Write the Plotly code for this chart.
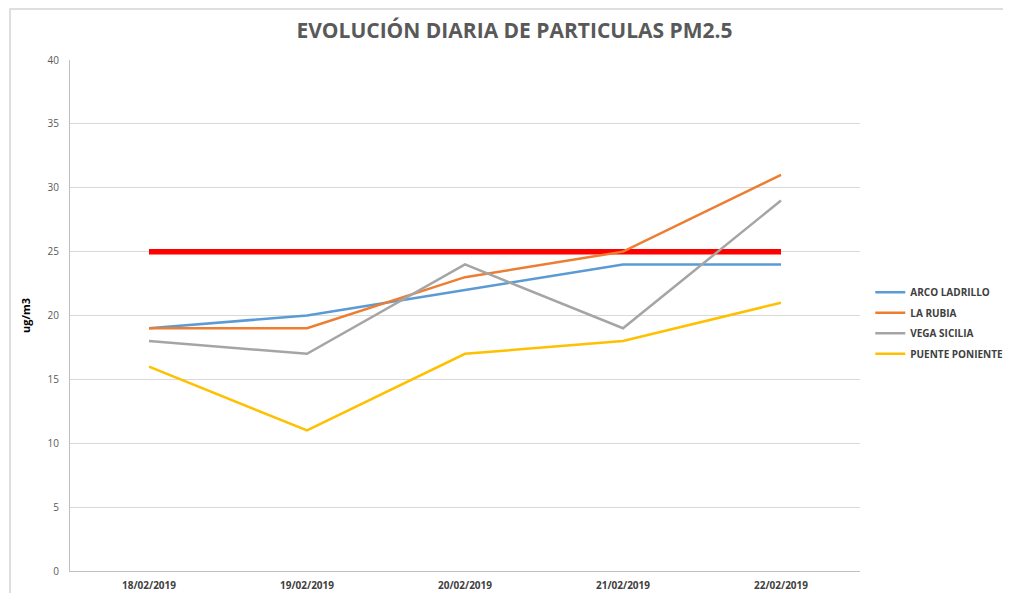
import plotly.graph_objects as go

fechas = ["18/02/2019", "19/02/2019", "20/02/2019", "21/02/2019", "22/02/2019"]
arco_ladrillo = [19, 20, 22, 24, 24]
la_rubia = [19, 19, 23, 25, 31]
vega_sicilia = [18, 17, 24, 19, 29]
puente_poniente = [16, 11, 17, 18, 21]
limite = [25, 25, 25, 25, 25]
y_ticks = [0, 5, 10, 15, 20, 25, 30, 35, 40]

FONT = "Liberation Sans Narrow, Arial Narrow, Open Sans, sans-serif"

fig = go.Figure()
fig.add_trace(go.Scatter(x=fechas, y=limite, mode="lines", showlegend=False,
                         line=dict(color="#FF0000", width=5.5)))
series = [("ARCO LADRILLO", arco_ladrillo, "#5B9BD5"),
          ("LA RUBIA", la_rubia, "#ED7D31"),
          ("VEGA SICILIA", vega_sicilia, "#A5A5A5"),
          ("PUENTE PONIENTE", puente_poniente, "#FFC000")]
for i, (name, vals, col) in enumerate(series):
    fig.add_trace(go.Scatter(x=fechas, y=vals, mode="lines", name=f"<b>{name}</b>",
                             legendgroup=f"g{i}",
                             line=dict(color=col, width=2.5)))

fig.update_layout(
    width=1003, height=585,
    paper_bgcolor="white", plot_bgcolor="white",
    margin=dict(l=62, r=151, t=52, b=22, autoexpand=False),
    title=dict(text="<b>EVOLUCIÓN DIARIA DE PARTICULAS PM2.5</b>",
               x=0.505, xanchor="center", yref="container", y=1 - 23 / 585, yanchor="middle",
               font=dict(family=FONT, size=21, color="#595959")),
    font=dict(family=FONT),
    xaxis=dict(type="category", range=[-0.5, 4.5], showgrid=False, automargin=False,
               showline=True, linecolor="#BFBFBF", linewidth=1,
               ticks="", ticklabelstandoff=5,
               tickfont=dict(size=10, color="#404040", family=FONT),
               tickprefix="<b>", ticksuffix="</b>"),
    yaxis=dict(range=[0, 40], tickvals=y_ticks, showgrid=True, gridcolor="#D9D9D9",
               automargin=False,
               showline=True, linecolor="#BFBFBF", linewidth=1, zeroline=False,
               ticks="", ticklen=0, ticklabelstandoff=8,
               tickfont=dict(size=10, color="#595959", family=FONT),
               tickprefix="<b>", ticksuffix="</b>",
               title=dict(text="<b>ug/m3</b>", standoff=14,
                          font=dict(size=11, color="#000000", family=FONT))),
    legend=dict(x=1.013, xanchor="left", y=0.485, yanchor="middle",
                font=dict(size=10, color="#404040", family=FONT),
                tracegroupgap=1.5, itemwidth=30, bgcolor="rgba(0,0,0,0)"),
)

fig.add_shape(type="rect", xref="paper", yref="paper",
              x0=-60/790, x1=1.4, y0=-0.2, y1=(511 + 51) / 511,
              line=dict(color="#D4D4D4", width=1.5), layer="above")

fig.write_html("out.html")
